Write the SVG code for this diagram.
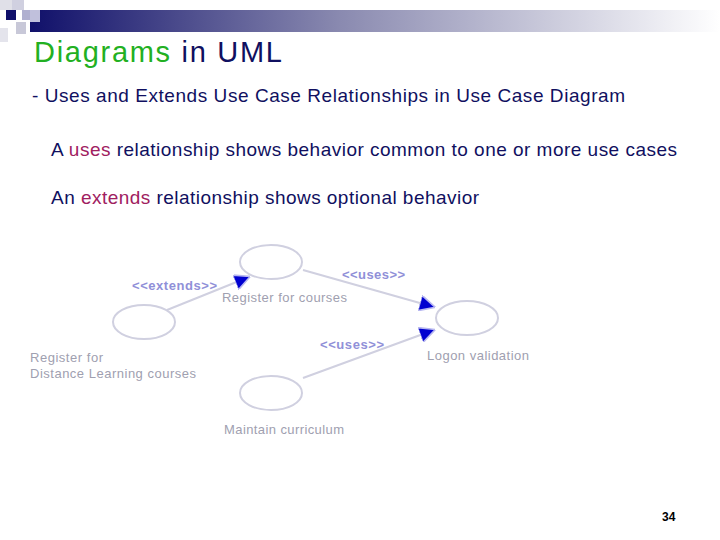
<svg xmlns="http://www.w3.org/2000/svg" width="720" height="540" viewBox="0 0 720 540">
<defs>
<linearGradient id="bar" x1="0" x2="1" y1="0" y2="0">
<stop offset="0" stop-color="#10106a"/><stop offset="0.45" stop-color="#8a8ab0"/><stop offset="1" stop-color="#ffffff"/>
</linearGradient>
<marker id="arr" viewBox="0 0 12 12" refX="11" refY="6" markerWidth="16" markerHeight="16" markerUnits="userSpaceOnUse" orient="auto">
<path d="M0,0 L12,6 L0,12 Z" fill="#0000d0" stroke="#b8b8f0" stroke-width="1.2"/>
</marker>
<style>
.uc{fill:none;stroke:#d0d0e0;stroke-width:2}
.lbl{font-family:"Liberation Sans",Arial,sans-serif;font-size:13px;fill:#a0a0b0}
.st{font-family:"Liberation Sans",Arial,sans-serif;font-size:13px;fill:#9090d8;font-weight:bold}
.ln{stroke:#d0d0e0;stroke-width:2;fill:none}
.b{font-family:"Liberation Sans",Arial,sans-serif;font-size:19px;fill:#101060}
</style>
</defs>
<rect x="30" y="10" width="690" height="22" fill="url(#bar)"/>
<rect x="0" y="0" width="12" height="10" fill="#e0e0e8"/>
<rect x="12" y="0" width="12" height="10" fill="#d0d0e0"/>
<rect x="6" y="10" width="10" height="10" fill="#10106a"/>
<rect x="22" y="10" width="10" height="10" fill="#b0b0d0"/>
<rect x="30" y="10" width="10" height="12" fill="#c0c0dc"/>
<rect x="16" y="22" width="10" height="12" fill="#c8c8d8"/>
<rect x="0" y="28" width="8" height="14" fill="#e4e4ec"/>
<text x="34" y="62" font-family="Liberation Sans,Arial,sans-serif" font-size="29" textLength="248"><tspan fill="#22b022">Diagrams</tspan><tspan fill="#101060"> in UML</tspan></text>
<text class="b" x="32" y="102" textLength="593">-  Uses and Extends Use Case Relationships in Use Case Diagram</text>
<text class="b" x="51" y="156" textLength="626">A <tspan fill="#a02060">uses</tspan> relationship shows behavior common to one or more use cases</text>
<text class="b" x="51" y="204" textLength="428">An <tspan fill="#a02060">extends</tspan> relationship shows optional behavior</text>
<g id="connectors">
<line class="ln" x1="167" y1="310" x2="249" y2="277" marker-end="url(#arr)"/>
<line class="ln" x1="303" y1="270" x2="434" y2="307" marker-end="url(#arr)"/>
<line class="ln" x1="303" y1="378" x2="434" y2="330" marker-end="url(#arr)"/>
<text class="st" x="132" y="290" textLength="85">&lt;&lt;extends&gt;&gt;</text>
<text class="st" x="342" y="279" textLength="63">&lt;&lt;uses&gt;&gt;</text>
<text class="st" x="320" y="349" textLength="64">&lt;&lt;uses&gt;&gt;</text>
</g>
<g id="register"><ellipse class="uc" cx="271" cy="262" rx="31" ry="17"/><text class="lbl" x="222" y="302" textLength="125">Register for courses</text></g>
<g id="distance"><ellipse class="uc" cx="144" cy="322" rx="31" ry="17"/><text class="lbl" x="30" y="362" textLength="73">Register for</text><text class="lbl" x="30" y="378" textLength="166">Distance Learning courses</text></g>
<g id="logon"><ellipse class="uc" cx="467" cy="318" rx="31" ry="17"/><text class="lbl" x="427" y="360" textLength="102">Logon validation</text></g>
<g id="maintain"><ellipse class="uc" cx="271" cy="393" rx="31" ry="17"/><text class="lbl" x="224" y="434" textLength="120">Maintain curriculum</text></g>
<text x="662" y="521" font-family="Liberation Sans,Arial,sans-serif" font-size="12" font-weight="bold" fill="#000">34</text>
</svg>
